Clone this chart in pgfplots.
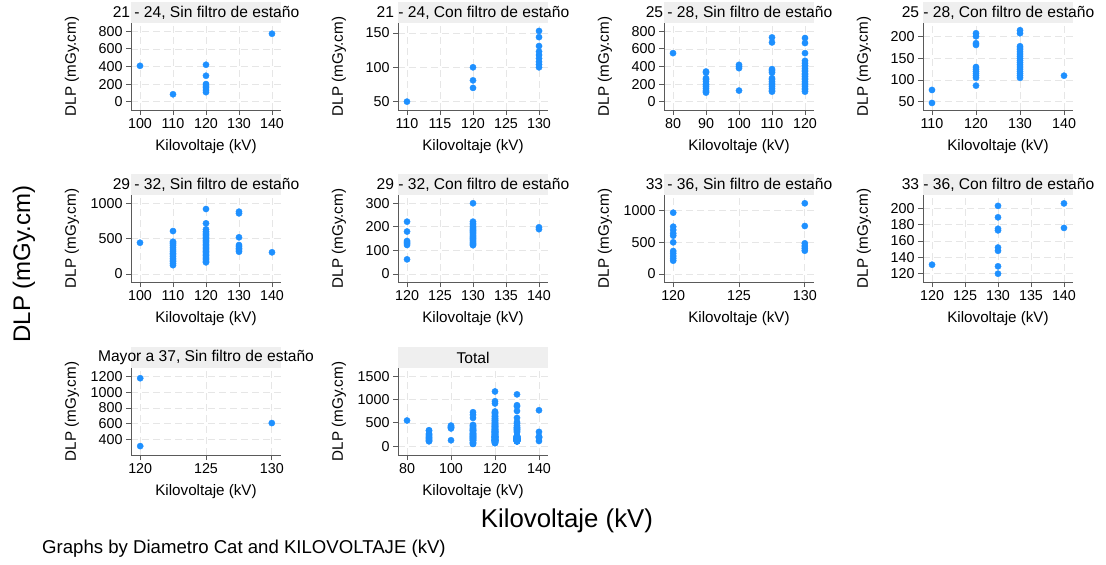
\documentclass[border=0pt]{standalone}
\usepackage{pgfplots}
\pgfplotsset{compat=1.18}
\usepackage{pgfplotstable}
\usepackage{fontspec}
\setmainfont{Liberation Sans}
\definecolor{mk}{HTML}{1E90FF}
\definecolor{stripc}{HTML}{EFEFEF}
\definecolor{gridc}{HTML}{E6E6E6}
\definecolor{axc}{HTML}{5A5A5A}

% 21 - 24, Sin filtro
\pgfplotstableread{
x y
100 408
110 84
120 420
120 295
120 200
120 178
120 158
120 132
120 108
140 773
}\dA
% 21 - 24, Con filtro
\pgfplotstableread{
x y
110 50
120 100
120 81
120 70
130 153
130 144
130 131
130 123
130 118
130 113
130 108
130 104
130 100
}\dB
% 25 - 28, Sin filtro
\pgfplotstableread{
x y
80 552
90 343
90 330
90 267
90 250
90 229
90 200
90 190
90 170
90 152
90 130
90 115
90 103
100 419
100 400
100 381
100 126
110 731
110 674
110 370
110 350
110 330
110 267
110 250
110 229
110 210
110 190
110 170
110 152
110 130
110 114
120 724
120 667
120 552
120 465
120 438
120 410
120 381
120 360
120 343
120 320
120 305
120 285
120 267
120 250
120 229
120 210
120 190
120 170
120 152
120 135
120 114
}\dC
% 25 - 28, Con filtro
\pgfplotstableread{
x y
110 77
110 47
120 208
120 201
120 185
120 181
120 130
120 125
120 120
120 115
120 110
120 105
120 87
130 215
130 208
130 178
130 174
130 170
130 165
130 160
130 155
130 150
130 145
130 140
130 135
130 130
130 125
130 120
130 115
130 110
130 105
140 110
}\dD
% 29 - 32, Sin filtro
\pgfplotstableread{
x y
100 443
110 608
110 458
110 440
110 425
110 400
110 370
110 340
110 315
110 292
110 270
110 245
110 220
110 198
110 175
110 151
110 125
120 920
120 717
120 632
120 600
120 580
120 560
120 540
120 520
120 500
120 480
120 460
120 440
120 420
120 400
120 380
120 360
120 340
120 320
120 300
120 280
120 260
120 240
120 220
120 200
120 180
120 165
130 882
130 858
130 519
130 410
130 385
130 363
130 340
130 316
140 307
}\dE
% 29 - 32, Con filtro
\pgfplotstableread{
x y
120 222
120 180
120 140
120 135
120 130
120 123
120 62
130 300
130 222
130 215
130 208
130 200
130 195
130 190
130 185
130 180
130 175
130 170
130 165
130 160
130 155
130 150
130 145
130 140
130 135
130 130
130 125
130 122
140 198
140 190
}\dF
% 33 - 36, Sin filtro
\pgfplotstableread{
x y
120 968
120 747
120 695
120 642
120 605
120 500
120 363
120 326
120 284
120 247
120 210
130 1116
130 758
130 484
130 442
130 405
130 368
}\dG
% 33 - 36, Con filtro
\pgfplotstableread{
x y
120 131
130 203
130 189
130 175
130 173
130 152
130 148
130 129
130 120
140 206
140 176
}\dH
% Mayor a 37, Sin filtro
\pgfplotstableread{
x y
120 1179
120 316
130 609
}\dI

\pgfplotsset{
  panel/.style={
    scale only axis, width=150pt, height=87pt,
    anchor=south west,
    axis lines*=left,
    axis line style={axc, line width=0.9pt},
    tick style={axc, line width=0.9pt},
    tick align=outside, major tick length=5pt,
    grid=major,
    major grid style={gridc, dash pattern=on 7pt off 4pt, line width=0.7pt},
    clip=false,
    ticklabel style={font=\fontsize{14.3}{16}\selectfont},
    /pgf/number format/assume math mode=true,
    /pgf/number format/1000 sep={},
    scaled ticks=false,
    xlabel={Kilovoltaje (kV)}, ylabel={DLP (mGy.cm)},
    every axis x label/.style={at={(rel axis cs:0.5,0)}, yshift=-37pt, anchor=center, font=\fontsize{15.2}{18}\selectfont},
    every axis y label/.style={at={(rel axis cs:0,0.5)}, xshift=-59pt, rotate=90, anchor=center, font=\fontsize{15.2}{18}\selectfont},
  },
  dots/.style={only marks, mark=*, mark size=3.1pt, color=mk},
}
\newcommand{\striptitle}[1]{%
  \fill[stripc] (rel axis cs:0,1) rectangle ([yshift=21pt]rel axis cs:1,1);
  \node[font=\fontsize{15.6}{18}\selectfont] at ([yshift=10.5pt]rel axis cs:0.5,1) {#1};}

\begin{document}
\begin{tikzpicture}
\path[use as bounding box] (0pt,0pt) rectangle (1106pt,-565pt);

% Row 1
\begin{axis}[panel, at={(131pt,-110pt)},
  xmin=97.27, xmax=142.73, ymin=-95, ymax=895,
  xtick={100,110,120,130,140}, ytick={0,200,400,600,800}]
  \addplot[dots] table {\dA};
  \striptitle{21 - 24, Sin filtro de estaño}
\end{axis}
\begin{axis}[panel, at={(398pt,-110pt)},
  xmin=108.64, xmax=131.36, ymin=37.8, ymax=164.6,
  xtick={110,115,120,125,130}, ytick={50,100,150}]
  \addplot[dots] table {\dB};
  \striptitle{21 - 24, Con filtro de estaño}
\end{axis}
\begin{axis}[panel, at={(664pt,-110pt)},
  xmin=77.27, xmax=122.73, ymin=-95, ymax=895,
  xtick={80,90,100,110,120}, ytick={0,200,400,600,800}]
  \addplot[dots] table {\dC};
  \striptitle{25 - 28, Sin filtro de estaño}
\end{axis}
\begin{axis}[panel, at={(923pt,-110pt)},
  xmin=107.96, xmax=142.04, ymin=30.7, ymax=231.7,
  xtick={110,120,130,140}, ytick={50,100,150,200}]
  \addplot[dots] table {\dD};
  \striptitle{25 - 28, Con filtro de estaño}
\end{axis}

% Row 2
\begin{axis}[panel, at={(131pt,-282pt)},
  xmin=97.27, xmax=142.73, ymin=-113, ymax=1118,
  xtick={100,110,120,130,140}, ytick={0,500,1000}]
  \addplot[dots] table {\dE};
  \striptitle{29 - 32, Sin filtro de estaño}
\end{axis}
\begin{axis}[panel, at={(398pt,-282pt)},
  xmin=118.63, xmax=141.37, ymin=-34, ymax=335,
  xtick={120,125,130,135,140}, ytick={0,100,200,300}]
  \addplot[dots] table {\dF};
  \striptitle{29 - 32, Con filtro de estaño}
\end{axis}
\begin{axis}[panel, at={(664pt,-282pt)},
  xmin=119.3, xmax=130.7, ymin=-126, ymax=1247,
  xtick={120,125,130}, ytick={0,500,1000}]
  \addplot[dots] table {\dG};
  \striptitle{33 - 36, Sin filtro de estaño}
\end{axis}
\begin{axis}[panel, at={(923pt,-282pt)},
  xmin=118.63, xmax=141.37, ymin=109.8, ymax=216.3,
  xtick={120,125,130,135,140}, ytick={120,140,160,180,200}]
  \addplot[dots] table {\dH};
  \striptitle{33 - 36, Con filtro de estaño}
\end{axis}

% Row 3
\begin{axis}[panel, at={(131pt,-455pt)},
  xmin=119.3, xmax=130.7, ymin=203, ymax=1309,
  xtick={120,125,130}, ytick={400,600,800,1000,1200}]
  \addplot[dots] table {\dI};
  \striptitle{Mayor a 37, Sin filtro de estaño}
\end{axis}
\begin{axis}[panel, at={(398pt,-455pt)},
  xmin=75.9, xmax=144.1, ymin=-192, ymax=1685,
  xtick={80,100,120,140}, ytick={0,500,1000,1500}]
  \addplot[dots] table {\dA};
  \addplot[dots] table {\dB};
  \addplot[dots] table {\dC};
  \addplot[dots] table {\dD};
  \addplot[dots] table {\dE};
  \addplot[dots] table {\dF};
  \addplot[dots] table {\dG};
  \addplot[dots] table {\dH};
  \addplot[dots] table {\dI};
  \striptitle{Total}
\end{axis}

\node[rotate=90, font=\fontsize{24}{28}\selectfont] at (24pt,-264pt) {DLP (mGy.cm)};
\node[font=\fontsize{25.8}{30}\selectfont] at (567pt,-521pt) {Kilovoltaje (kV)};
\node[anchor=west, inner sep=0pt, font=\fontsize{18.6}{22}\selectfont] at (42pt,-549pt) {Graphs by Diametro Cat and KILOVOLTAJE (kV)};
\end{tikzpicture}
\end{document}
